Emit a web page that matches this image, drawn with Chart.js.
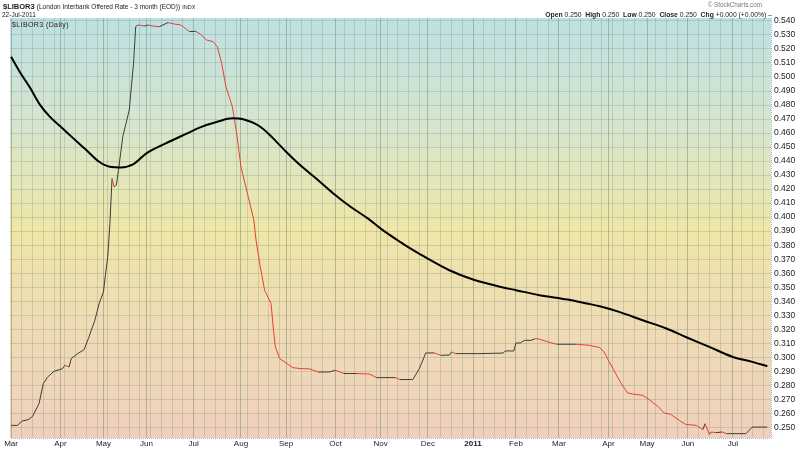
<!DOCTYPE html>
<html>
<head>
<meta charset="utf-8">
<script src="https://cdn.jsdelivr.net/npm/chart.js@4"></script>
<style>
  body { margin: 0; background: #fff; font-family: "Liberation Sans", Arial, sans-serif; }
  #wrap { position: relative; width: 800px; height: 450px; }
  .txt { position: absolute; white-space: nowrap; color: #222; line-height: 1; }
</style>
</head>
<body>
<div id="wrap">
  <canvas id="myChart" width="800" height="450"></canvas>
  <div class="txt" style="left:3px;top:3px;font-size:7.5px;font-weight:bold;">$LIBOR3 <span style="font-weight:normal;font-size:6.5px;">(London Interbank Offered Rate - 3 month (EOD))</span> <span style="font-weight:normal;font-size:5.5px;">INDX</span></div>
  <div class="txt" style="left:2px;top:12px;font-size:6.5px;">22-Jul-2011</div>
  <div class="txt" style="right:38px;top:2px;font-size:6.3px;color:#777;">© StockCharts.com</div>
  <div class="txt" style="right:28px;top:12px;font-size:6.8px;"><b>Open</b> 0.250 &nbsp;<b>High</b> 0.250 &nbsp;<b>Low</b> 0.250 &nbsp;<b>Close</b> 0.250 &nbsp;<b>Chg</b> +0.000 (+0.00%) –</div>
  <div class="txt" style="left:12px;top:21px;font-size:7px;letter-spacing:0.4px;">$LIBOR3 (Daily)</div>
</div>
<script>
// trading day index (0 = 1 Mar 2010) and 3 month LIBOR close
const priceDays = [0, 3, 5, 8, 10, 13, 15, 17, 20, 24, 25, 27, 28, 31, 34, 36, 39, 41, 43, 44, 45, 46, 47, 48, 49, 50,
  52, 55, 56, 57, 58, 59, 62, 64, 66, 69, 73, 76, 79, 81, 83, 86, 88, 91, 94, 96, 98, 100, 103, 105, 107, 110,
  113, 114, 116, 118, 121, 122, 123, 125, 128, 131, 135, 139, 143, 148, 151, 155, 161, 167, 170, 179, 181, 187,
  190, 191, 193, 197, 200, 204, 205, 207, 217, 229, 230, 234, 235, 237, 239, 242, 244, 246, 250, 254, 263, 269,
  274, 276, 278, 281, 284, 287, 290, 294, 297, 301, 304, 307, 311, 314, 319, 322, 323, 325, 326, 328, 331, 333,
  342, 345, 352];
const priceValues = [0.2514, 0.2514, 0.2545, 0.2555, 0.2578, 0.2669, 0.2812, 0.2859, 0.2900, 0.2919, 0.2943, 0.2931,
  0.2991, 0.3026, 0.3055, 0.3134, 0.3264, 0.3384, 0.3467, 0.3598, 0.3716, 0.3955, 0.4276, 0.4216, 0.4229, 0.4336,
  0.4574, 0.4764, 0.4931, 0.5098, 0.5359, 0.5371, 0.5364, 0.5371, 0.5364, 0.5359, 0.5388, 0.5378, 0.5371, 0.5348,
  0.5324, 0.5326, 0.5307, 0.5264, 0.5252, 0.5216, 0.5098, 0.4931, 0.4788, 0.4598, 0.4359, 0.4169,
  0.3979, 0.3836, 0.3645, 0.3479, 0.3384, 0.3216, 0.3074, 0.2991, 0.2960, 0.2926, 0.2919, 0.2917, 0.2895, 0.2895,
  0.2907, 0.2884, 0.2884, 0.2880, 0.2855, 0.2855, 0.2841, 0.2841,
  0.2919, 0.2955, 0.3031, 0.3031, 0.3014, 0.3016, 0.3038, 0.3026, 0.3026, 0.3030, 0.3045, 0.3045, 0.3102, 0.3102,
  0.3121, 0.3121, 0.3133, 0.3129, 0.3109, 0.3093, 0.3093, 0.3086,
  0.3069, 0.3038, 0.2979, 0.2895, 0.2812, 0.2745, 0.2736, 0.2729, 0.2698, 0.2650, 0.2602, 0.2593, 0.2550, 0.2521,
  0.2514, 0.2484, 0.2526, 0.2450, 0.2467, 0.2462, 0.2467, 0.2455,
  0.2455, 0.2502, 0.2502];

// moving average (thick black line)
const maDays = [0, 4, 9, 13, 18, 24, 29, 35, 41, 46, 51, 57, 63, 72, 82, 88, 96, 103, 108, 116, 122, 128, 134, 142,
  150, 158, 166, 173, 181, 186, 192, 204, 215, 228, 235, 246, 259, 268, 274, 283, 294, 305, 314, 325, 336, 345, 352];
const maValues = [0.5145, 0.5038, 0.4919, 0.4812, 0.4717, 0.4633, 0.4562, 0.4479, 0.4395, 0.4359, 0.4355, 0.4379,
  0.4455, 0.4526, 0.4598, 0.4641, 0.4681, 0.4705, 0.4698, 0.4645, 0.4562, 0.4467, 0.4379, 0.4276,
  0.4169, 0.4074, 0.3991, 0.3907, 0.3824, 0.3776, 0.3721, 0.3621, 0.3555, 0.3502, 0.3479, 0.3443, 0.3412, 0.3384,
  0.3364, 0.3324, 0.3264, 0.3205, 0.3145, 0.3074, 0.3002, 0.2967, 0.2936];

// month ticks
const monthLabels = ['Mar', 'Apr', 'May', 'Jun', 'Jul', 'Aug', 'Sep', 'Oct', 'Nov', 'Dec', '2011', 'Feb', 'Mar', 'Apr', 'May', 'Jun', 'Jul'];
const monthDays = [0, 23, 43, 63, 85, 107, 128, 151, 172, 194, 215, 235, 255, 278, 296, 315, 336];

const yTicks = Array.from({length: 30}, (_, i) => +(0.25 + i * 0.01).toFixed(2));

const weekTicks = [];
for (let d = 0; d <= 352; d += 5) {
  if (!monthDays.some(m => Math.abs(m - d) < 2)) weekTicks.push(d);
}

const bgPlugin = {
  id: 'bg',
  beforeDraw(chart) {
    const {ctx, chartArea: a} = chart;
    const g = ctx.createLinearGradient(0, a.top, 0, a.bottom);
    g.addColorStop(0, '#bde0e3');
    g.addColorStop(0.25, '#d6e5cf');
    g.addColorStop(0.5, '#efe6a8');
    g.addColorStop(0.72, '#efdcb4');
    g.addColorStop(1, '#f0d0bd');
    ctx.save();
    ctx.fillStyle = g;
    ctx.fillRect(a.left, a.top, a.right - a.left, a.bottom - a.top);
    ctx.restore();
  },
  afterDraw(chart) {
    // dotted frame on the right and bottom edge, as in the original
    const {ctx, chartArea: a} = chart;
    ctx.save();
    ctx.strokeStyle = '#9fbccb';
    ctx.lineWidth = 1;
    ctx.setLineDash([1, 1]);
    ctx.beginPath();
    ctx.moveTo(a.right + 0.5, a.top);
    ctx.lineTo(a.right + 0.5, a.bottom + 0.5);
    ctx.lineTo(a.left, a.bottom + 0.5);
    ctx.stroke();
    ctx.restore();
  }
};

const ctx = document.getElementById('myChart');
new Chart(ctx, {
  type: 'line',
  data: {
    datasets: [{
      data: maDays.map((d, i) => ({x: d, y: maValues[i]})),
      borderColor: '#000',
      borderWidth: 2,
      pointRadius: 0,
      cubicInterpolationMode: 'monotone'
    }, {
      data: priceDays.map((d, i) => ({x: d, y: priceValues[i]})),
      borderColor: '#3c3c3c',
      borderWidth: 1,
      pointRadius: 0,
      tension: 0,
      segment: {
        borderColor: c => c.p1.parsed.y < c.p0.parsed.y ? '#e8402e' : '#3c3c3c'
      }
    }]
  },
  options: {
    responsive: false,
    animation: false,
    layout: {padding: {left: 10, top: 18, right: 0, bottom: 0}},
    plugins: {legend: {display: false}, tooltip: {enabled: false}},
    scales: {
      x: {
        type: 'linear',
        min: -0.5,
        max: 353.7,
        afterBuildTicks: axis => {
          axis.ticks = monthDays.concat(weekTicks).sort((a, b) => a - b).map(v => ({value: v}));
        },
        afterFit: scale => { scale.height = 12; },
        grid: {
          drawTicks: false,
          color: c => monthDays.includes(c.tick && c.tick.value) ? 'rgba(115,140,115,0.5)' : 'rgba(115,140,115,0.28)'
        },
        border: {display: false},
        ticks: {
          autoSkip: false,
          maxRotation: 0,
          padding: 1,
          color: '#222',
          font: c => ({family: 'Liberation Sans', size: 8, weight: c.tick && c.tick.label === '2011' ? 'bold' : 'normal'}),
          callback: v => {
            const i = monthDays.indexOf(v);
            return i >= 0 ? monthLabels[i] : '';
          }
        }
      },
      y: {
        position: 'right',
        min: 0.2424,
        max: 0.5421,
        afterBuildTicks: axis => { axis.ticks = yTicks.map(v => ({value: v})); },
        afterFit: scale => { scale.width = 29; },
        grid: {drawTicks: false, color: 'rgba(115,140,115,0.28)'},
        border: {display: false},
        ticks: {
          padding: 3,
          color: '#222',
          font: {family: 'Liberation Sans', size: 8.5},
          callback: v => v.toFixed(3)
        }
      }
    }
  },
  plugins: [bgPlugin]
});
</script>
</body>
</html>
